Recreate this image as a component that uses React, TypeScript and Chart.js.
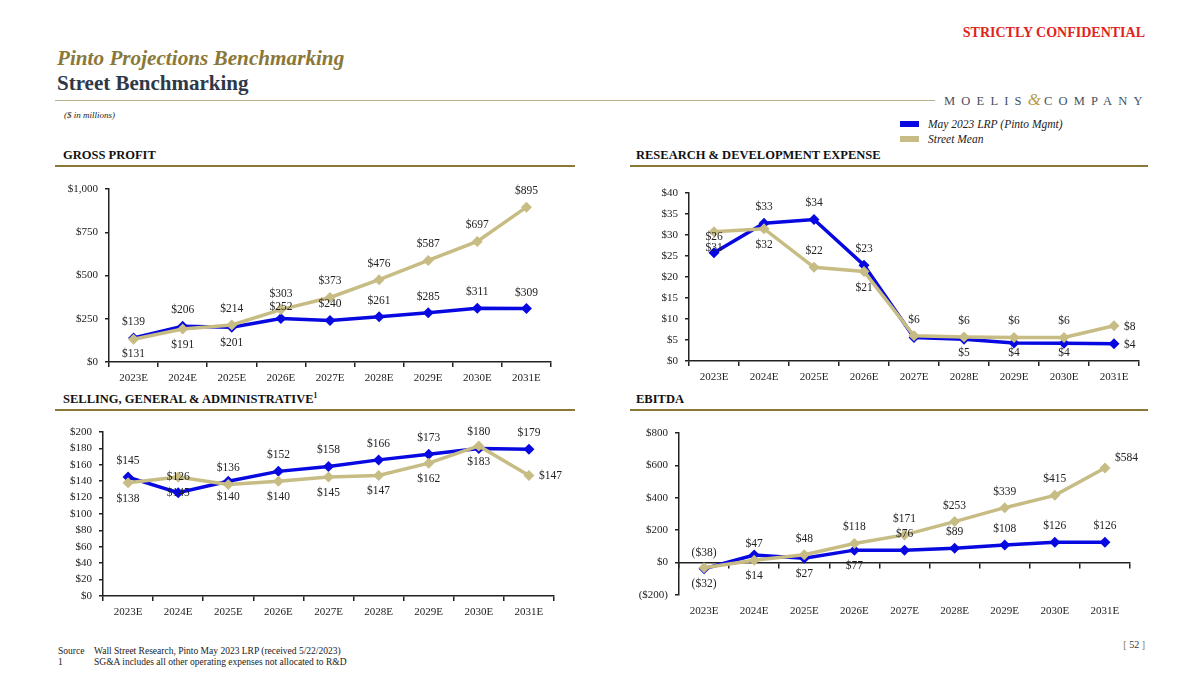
import React, { useEffect, useRef } from 'react';
import { Chart, registerables } from 'chart.js';

Chart.register(...registerables);

// ---------------- data ----------------
const categories = ['2023E', '2024E', '2025E', '2026E', '2027E', '2028E', '2029E', '2030E', '2031E'];

const gpLrp = [139, 206, 201, 252, 240, 261, 285, 311, 309];
const gpStreet = [131, 191, 214, 303, 373, 476, 587, 697, 895];
const gpTicks = [0, 250, 500, 750, 1000];

const rdLrp = [25.8, 32.8, 33.7, 22.8, 5.6, 5.2, 4.3, 4.2, 4.1];
const rdStreet = [30.8, 31.5, 22.3, 21.3, 6.0, 5.7, 5.6, 5.6, 8.4];
const rdTicks = [0, 5, 10, 15, 20, 25, 30, 35, 40];

const sgaLrp = [145, 126, 140, 152, 158, 166, 173, 180, 179];
const sgaStreet = [138, 145, 136, 140, 145, 147, 162, 183, 147];
const sgaTicks = [0, 20, 40, 60, 80, 100, 120, 140, 160, 180, 200];

const ebitdaLrp = [-38, 47, 27, 77, 76, 89, 108, 126, 126];
const ebitdaStreet = [-32, 14, 48, 118, 171, 253, 339, 415, 584];
const ebitdaTicks = [-200, 0, 200, 400, 600, 800];

// label placement (style): a = above, as = above (close), b = below, r = right, ur = upper right, n = none
const gpLrpLbl = ['a', 'a', 'b', 'as', 'a', 'a', 'a', 'a', 'a'];
const gpStreetLbl = ['b', 'b', 'a', 'a', 'a', 'a', 'a', 'a', 'a'];
const rdLrpLbl = ['a', 'a', 'a', 'a', 'n', 'b', 'b', 'b', 'r'];
const rdStreetLbl = ['b', 'b', 'a', 'b', 'a', 'a', 'a', 'a', 'r'];
const sgaLrpLbl = ['a', 'a', 'b', 'a', 'a', 'a', 'a', 'a', 'a'];
const sgaStreetLbl = ['b', 'b', 'a', 'b', 'b', 'b', 'b', 'b', 'r'];
const ebLrpLbl = ['a', 'as', 'b', 'b', 'a', 'a', 'a', 'a', 'a'];
const ebStreetLbl = ['b', 'b', 'a', 'a', 'a', 'a', 'a', 'a', 'ur'];

// ---------------- style ----------------
const BLUE = '#0808E0';
const GOLD = '#C7BC84';
const SERIF = '"Liberation Serif", "Times New Roman", serif';
const TITLE_GOLD = '#8A7838';
const DARK = '#2E3848';

const YW = 60;
const PT = 16;
const PR = 34;
const XH = 30;

function fmtMoney(v: number): string {
  const r = Math.round(v);
  if (r < 0) return `($${Math.abs(r).toLocaleString('en-US')})`;
  return `$${r.toLocaleString('en-US')}`;
}

interface ChartProps {
  plotLeft: number;
  plotTop: number;
  plotRight: number;
  plotBottom: number;
  ticks: number[];
  lrp: number[];
  street: number[];
  lrpLbl: string[];
  streetLbl: string[];
  zeroAxis?: boolean;
}

function LineChart(p: ChartProps) {
  const ref = useRef<HTMLCanvasElement | null>(null);
  const W = YW + (p.plotRight - p.plotLeft) + PR;
  const H = PT + (p.plotBottom - p.plotTop) + XH;

  useEffect(() => {
    if (!ref.current) return;
    const placements = [p.streetLbl, p.lrpLbl];
    const labelPlugin = {
      id: 'valueLabels',
      afterDatasetsDraw(chart: any) {
        const ctx = chart.ctx;
        const area = chart.chartArea;
        ctx.save();
        ctx.font = `11.5px ${SERIF}`;
        ctx.fillStyle = '#222';
        chart.data.datasets.forEach((ds: any, di: number) => {
          const meta = chart.getDatasetMeta(di);
          meta.data.forEach((pt: any, i: number) => {
            const pos = placements[di][i];
            if (pos === 'n') return;
            const txt = fmtMoney(ds.data[i]);
            let x = pt.x;
            let y = pt.y;
            ctx.textBaseline = 'middle';
            ctx.textAlign = 'center';
            if (pos === 'a') y -= 16;
            else if (pos === 'as') y -= 11;
            else if (pos === 'b') y = Math.min(y + 16, area.bottom - 8);
            else if (pos === 'r') {
              x += 10;
              y += 1;
              ctx.textAlign = 'left';
            } else if (pos === 'ur') {
              x += 10;
              y -= 10;
              ctx.textAlign = 'left';
            }
            ctx.fillText(txt, x, y);
          });
        });
        ctx.restore();
      },
    };

    const tickFont = { family: SERIF, size: 11 };
    const scales: any = {
      x: {
        type: 'category',
        offset: true,
        grid: {
          display: true,
          offset: true,
          drawOnChartArea: false,
          drawTicks: true,
          tickLength: 5,
          color: p.zeroAxis ? 'rgba(0,0,0,0)' : '#222',
          lineWidth: 1.5,
        },
        border: { display: !p.zeroAxis, color: '#222', width: 1.5 },
        ticks: { font: tickFont, color: '#222', padding: 5, maxRotation: 0, autoSkip: false },
        afterFit: (s: any) => {
          s.height = XH;
        },
      },
      y: {
        min: p.ticks[0],
        max: p.ticks[p.ticks.length - 1],
        afterBuildTicks: (s: any) => {
          s.ticks = p.ticks.map((v) => ({ value: v }));
        },
        grid: {
          display: true,
          drawOnChartArea: false,
          drawTicks: true,
          tickLength: 4,
          color: '#222',
          lineWidth: 1.5,
        },
        border: { display: true, color: '#222', width: 1.5 },
        ticks: {
          font: tickFont,
          color: '#222',
          padding: 7,
          callback: (v: any) => fmtMoney(Number(v)),
        },
        afterFit: (s: any) => {
          s.width = YW;
        },
      },
    };
    if (p.zeroAxis) {
      scales.x2 = {
        type: 'category',
        labels: categories,
        offset: true,
        position: { y: 0 },
        grid: {
          display: true,
          offset: true,
          drawOnChartArea: false,
          drawTicks: true,
          tickLength: 5,
          color: '#222',
          lineWidth: 1.5,
        },
        border: { display: true, color: '#222', width: 1.5 },
        ticks: { display: false },
      };
    }

    const chart = new Chart(ref.current, {
      type: 'line',
      data: {
        labels: categories,
        datasets: [
          {
            label: 'Street Mean',
            data: p.street,
            borderColor: GOLD,
            backgroundColor: GOLD,
            borderWidth: 3.5,
            pointStyle: 'rectRot',
            pointRadius: 5.5,
            pointBorderWidth: 0,
            pointBackgroundColor: GOLD,
            tension: 0,
            order: 0,
          },
          {
            label: 'May 2023 LRP (Pinto Mgmt)',
            data: p.lrp,
            borderColor: BLUE,
            backgroundColor: BLUE,
            borderWidth: 3.5,
            pointStyle: 'rectRot',
            pointRadius: 5.5,
            pointBorderWidth: 0,
            pointBackgroundColor: BLUE,
            tension: 0,
            order: 1,
          },
        ],
      },
      options: {
        responsive: false,
        animation: false,
        layout: { padding: { top: PT, right: PR, left: 0, bottom: 0 } },
        plugins: { legend: { display: false }, tooltip: { enabled: false } },
        scales,
      } as any,
      plugins: [labelPlugin],
    });
    return () => chart.destroy();
  }, []);

  return (
    <div
      style={{
        position: 'absolute',
        left: p.plotLeft - YW,
        top: p.plotTop - PT,
        width: W,
        height: H,
      }}
    >
      <canvas ref={ref} width={W} height={H} style={{ width: W, height: H, display: 'block' }} />
    </div>
  );
}

function SectionHeader({ x, lineX, lineW, y, children }: any) {
  return (
    <>
      <div
        style={{
          position: 'absolute',
          left: x,
          top: y - 8,
          fontFamily: SERIF,
          fontWeight: 'bold',
          fontSize: 12.5,
          color: '#111',
          whiteSpace: 'nowrap',
          lineHeight: '16px',
        }}
      >
        {children}
      </div>
      <div
        style={{
          position: 'absolute',
          left: lineX,
          top: y + 10,
          width: lineW,
          height: 2,
          background: TITLE_GOLD,
        }}
      />
    </>
  );
}

const footStyle: React.CSSProperties = {
  position: 'absolute',
  fontSize: 9.5,
  lineHeight: '11px',
  color: '#222',
  whiteSpace: 'nowrap',
};

export default function App() {
  return (
    <div
      style={{
        position: 'absolute',
        left: 0,
        top: 0,
        width: 1200,
        height: 676,
        overflow: 'hidden',
        background: '#fff',
        fontFamily: SERIF,
      }}
    >
      {/* confidential */}
      <div
        style={{
          position: 'absolute',
          right: 55,
          top: 25,
          color: '#E0231C',
          fontWeight: 'bold',
          fontSize: 14,
          lineHeight: '16px',
          whiteSpace: 'nowrap',
        }}
      >
        STRICTLY CONFIDENTIAL
      </div>

      {/* titles */}
      <div
        style={{
          position: 'absolute',
          left: 57,
          top: 46,
          color: TITLE_GOLD,
          fontWeight: 'bold',
          fontStyle: 'italic',
          fontSize: 21.2,
          lineHeight: '24px',
          whiteSpace: 'nowrap',
        }}
      >
        Pinto Projections Benchmarking
      </div>
      <div
        style={{
          position: 'absolute',
          left: 57,
          top: 71,
          color: DARK,
          fontWeight: 'bold',
          fontSize: 21,
          lineHeight: '24px',
          whiteSpace: 'nowrap',
        }}
      >
        Street Benchmarking
      </div>
      <div style={{ position: 'absolute', left: 55, top: 100, width: 880, height: 1, background: '#B9B28C' }} />
      <div
        style={{
          position: 'absolute',
          left: 944,
          top: 92,
          color: '#445063',
          fontSize: 12.5,
          letterSpacing: 6.2,
          lineHeight: '16px',
          whiteSpace: 'nowrap',
        }}
      >
        MOELIS
        <span style={{ color: '#B89A45', fontStyle: 'italic', fontSize: 17, letterSpacing: 3 }}>&amp;</span>
        COMPANY
      </div>

      <div
        style={{
          position: 'absolute',
          left: 64,
          top: 109,
          fontStyle: 'italic',
          fontSize: 9,
          color: '#222',
          lineHeight: '12px',
          whiteSpace: 'nowrap',
        }}
      >
        ($ in millions)
      </div>

      {/* legend */}
      <div style={{ position: 'absolute', left: 900, top: 121, width: 19, height: 6, background: BLUE }} />
      <div
        style={{
          position: 'absolute',
          left: 928,
          top: 117,
          fontStyle: 'italic',
          fontSize: 11.5,
          color: '#222',
          lineHeight: '14px',
          whiteSpace: 'nowrap',
        }}
      >
        May 2023 LRP (Pinto Mgmt)
      </div>
      <div style={{ position: 'absolute', left: 900, top: 136, width: 19, height: 6, background: GOLD }} />
      <div
        style={{
          position: 'absolute',
          left: 928,
          top: 132,
          fontStyle: 'italic',
          fontSize: 11.5,
          color: '#222',
          lineHeight: '14px',
          whiteSpace: 'nowrap',
        }}
      >
        Street Mean
      </div>

      {/* section headers */}
      <SectionHeader x={63} lineX={55} lineW={520} y={155}>
        GROSS PROFIT
      </SectionHeader>
      <SectionHeader x={636} lineX={630} lineW={518} y={155}>
        RESEARCH &amp; DEVELOPMENT EXPENSE
      </SectionHeader>
      <SectionHeader x={63} lineX={55} lineW={520} y={399}>
        SELLING, GENERAL &amp; ADMINISTRATIVE
        <sup style={{ fontSize: 7.5, verticalAlign: 'top', lineHeight: '10px' }}>1</sup>
      </SectionHeader>
      <SectionHeader x={636} lineX={630} lineW={518} y={399}>
        EBITDA
      </SectionHeader>

      {/* charts */}
      <LineChart
        plotLeft={109}
        plotTop={189}
        plotRight={551}
        plotBottom={362}
        ticks={gpTicks}
        lrp={gpLrp}
        street={gpStreet}
        lrpLbl={gpLrpLbl}
        streetLbl={gpStreetLbl}
      />
      <LineChart
        plotLeft={689}
        plotTop={193}
        plotRight={1139}
        plotBottom={361}
        ticks={rdTicks}
        lrp={rdLrp}
        street={rdStreet}
        lrpLbl={rdLrpLbl}
        streetLbl={rdStreetLbl}
      />
      <LineChart
        plotLeft={103}
        plotTop={432}
        plotRight={554}
        plotBottom={596}
        ticks={sgaTicks}
        lrp={sgaLrp}
        street={sgaStreet}
        lrpLbl={sgaLrpLbl}
        streetLbl={sgaStreetLbl}
      />
      <LineChart
        plotLeft={679}
        plotTop={433}
        plotRight={1130}
        plotBottom={595}
        ticks={ebitdaTicks}
        lrp={ebitdaLrp}
        street={ebitdaStreet}
        lrpLbl={ebLrpLbl}
        streetLbl={ebStreetLbl}
        zeroAxis
      />

      {/* footer */}
      <div style={{ ...footStyle, left: 58, top: 646 }}>Source</div>
      <div style={{ ...footStyle, left: 94, top: 646 }}>
        Wall Street Research, Pinto May 2023 LRP (received 5/22/2023)
      </div>
      <div style={{ ...footStyle, left: 58, top: 657 }}>1</div>
      <div style={{ ...footStyle, left: 94, top: 657 }}>
        SG&amp;A includes all other operating expenses not allocated to R&amp;D
      </div>
      <div style={{ position: 'absolute', right: 55, top: 639, fontSize: 10, lineHeight: '12px', color: '#333', whiteSpace: 'nowrap' }}>
        <span style={{ color: TITLE_GOLD }}>[</span> 52 <span style={{ color: TITLE_GOLD }}>]</span>
      </div>
    </div>
  );
}
